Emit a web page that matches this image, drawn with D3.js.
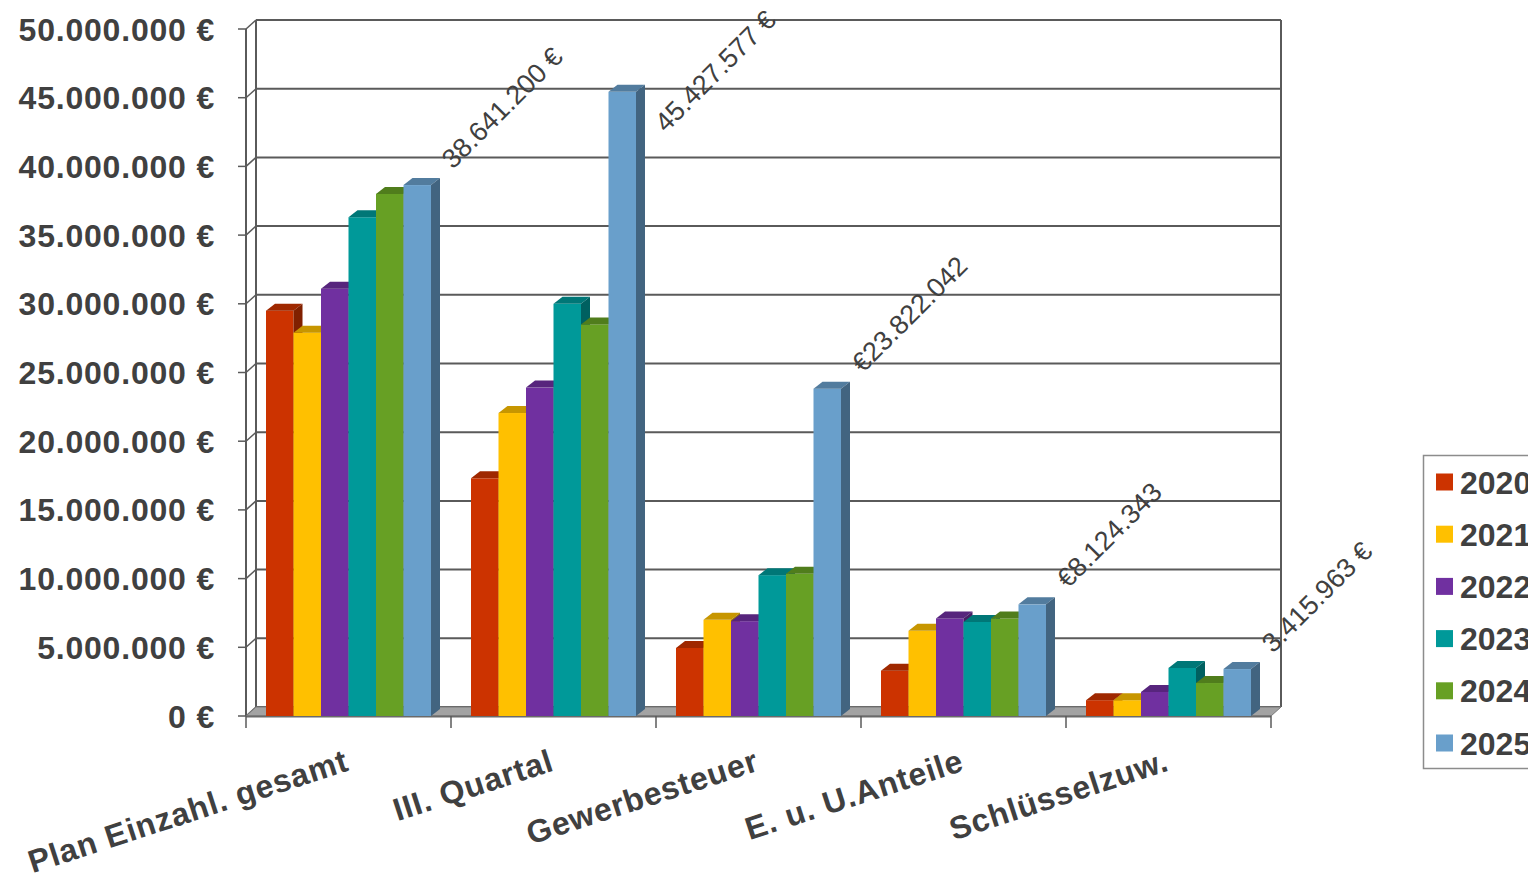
<!DOCTYPE html>
<html><head><meta charset="utf-8">
<script src="https://cdn.jsdelivr.net/npm/d3@7"></script>
<style>body{margin:0;background:#fff;overflow:hidden}text{font-family:"Liberation Sans",Arial,sans-serif}</style>
</head><body>
<svg id="chart" width="1528" height="879"></svg>
<script>
const categories = ["Plan Einzahl. gesamt", "III. Quartal", "Gewerbesteuer", "E. u. U.Anteile", "Schlüsselzuw."];
const years = ["2020", "2021", "2022", "2023", "2024", "2025"];
const v2020 = [29500000, 17300000, 4950000, 3300000, 1150000];
const v2021 = [27900000, 22050000, 7000000, 6200000, 1150000];
const v2022 = [31100000, 23900000, 6900000, 7100000, 1750000];
const v2023 = [36300000, 30000000, 10250000, 6850000, 3500000];
const v2024 = [38000000, 28500000, 10350000, 7100000, 2400000];
const v2025 = [38641200, 45427577, 23822042, 8124343, 3415963];
const labels2025 = ["38.641.200 €", "45.427.577 €", "€23.822.042", "€8.124.343", "3.415.963 €"];
const yTicks = [0, 5000000, 10000000, 15000000, 20000000, 25000000, 30000000, 35000000, 40000000, 45000000, 50000000];
const yTickLabels = ["0 €", "5.000.000 €", "10.000.000 €", "15.000.000 €", "20.000.000 €", "25.000.000 €", "30.000.000 €", "35.000.000 €", "40.000.000 €", "45.000.000 €", "50.000.000 €"];
const seriesColors = ["#cc3300", "#ffc000", "#7030a0", "#009999", "#67a024", "#699fcb"];

const series = [v2020, v2021, v2022, v2023, v2024, v2025];

const svg = d3.select("#chart");
const TXT = "#404040", GRID = "#5a5a5a";
const WX = 10, WY = -9;      // wall depth
const BX = 9, BY = -7;       // bar depth

const y = d3.scaleLinear().domain([0, 50000000]).range([716, 29]);
const x = d3.scaleBand().domain(categories).range([246, 1271]);
const xi = d3.scaleBand().domain(years).range([20, x.bandwidth() - 20]);
const y0 = y(0);
const xL = x.range()[0], xR = x.range()[1];

const walls = svg.append("g");
yTicks.forEach(t => {
  const yf = y(t), yb = y(t) + WY;
  walls.append("line").attr("x1", xL + WX).attr("x2", xR + WX).attr("y1", yb).attr("y2", yb)
    .attr("stroke", GRID).attr("stroke-width", 2);
  walls.append("line").attr("x1", xL).attr("y1", yf).attr("x2", xL + WX).attr("y2", yb)
    .attr("stroke", GRID).attr("stroke-width", 1.5);
  walls.append("line").attr("x1", xL - 8).attr("x2", xL).attr("y1", yf).attr("y2", yf)
    .attr("stroke", GRID).attr("stroke-width", 1.5);
});
const yTop = y(50000000);
walls.append("line").attr("x1", xL).attr("x2", xL).attr("y1", yTop).attr("y2", y0).attr("stroke", GRID).attr("stroke-width", 2);
walls.append("line").attr("x1", xL + WX).attr("x2", xL + WX).attr("y1", yTop + WY).attr("y2", y0 + WY).attr("stroke", GRID).attr("stroke-width", 2);
walls.append("line").attr("x1", xR + WX).attr("x2", xR + WX).attr("y1", yTop + WY).attr("y2", y0 + WY).attr("stroke", GRID).attr("stroke-width", 2);

walls.append("polygon")
  .attr("points", [[xL, y0], [xL + WX, y0 + WY], [xR + WX, y0 + WY], [xR, y0]].map(p => p.join(",")).join(" "))
  .attr("fill", "#a3a3a3").attr("stroke", "#7a7a7a").attr("stroke-width", 1);
walls.append("line").attr("x1", xL).attr("x2", xR).attr("y1", y0 + 0.5).attr("y2", y0 + 0.5).attr("stroke", "#6a6a6a").attr("stroke-width", 2);

d3.range(categories.length + 1).forEach(i => {
  const xx = xL + i * x.step();
  walls.append("line").attr("x1", xx).attr("x2", xx).attr("y1", y0).attr("y2", y0 + 12)
    .attr("stroke", GRID).attr("stroke-width", 1.5);
});

svg.append("g").selectAll("text").data(yTicks).join("text")
  .attr("x", 215).attr("y", d => y(d)).attr("dy", "0.36em")
  .attr("text-anchor", "end").attr("font-size", 32).attr("font-weight", "bold")
  .attr("letter-spacing", "0.8px").attr("fill", TXT)
  .text((d, i) => yTickLabels[i]);

const bars = svg.append("g");
categories.forEach((c, ci) => {
  years.forEach((yr, si) => {
    const v = series[si][ci];
    const bx = x(c) + xi(yr), w = xi.bandwidth(), bt = y(v);
    const col = d3.color(seriesColors[si]);
    const g = bars.append("g");
    g.append("rect").attr("x", bx).attr("y", bt).attr("width", w).attr("height", y0 - bt).attr("fill", col.formatHex());
    g.append("polygon").attr("points", [[bx, bt], [bx + BX, bt + BY], [bx + w + BX, bt + BY], [bx + w, bt]].map(p => p.join(",")).join(" "))
      .attr("fill", col.darker(0.7).formatHex());
    g.append("polygon").attr("points", [[bx + w, bt], [bx + w + BX, bt + BY], [bx + w + BX, y0 + BY], [bx + w, y0]].map(p => p.join(",")).join(" "))
      .attr("fill", col.darker(1.3).formatHex());
  });
});

const lab = svg.append("g");
categories.forEach((c, ci) => {
  let bx = x(c) + xi("2025") + xi.bandwidth() + BX + 13;
  const bt = y(v2025[ci]);
  const t = lab.append("text").attr("font-size", 27).attr("fill", TXT).text(labels2025[ci]);
  const len = t.node().getComputedTextLength();
  const minY = 22 + len * Math.SQRT1_2;
  let sy = bt - 15;
  if (sy < minY) { sy = minY; bx += 8; }
  t.attr("transform", `translate(${bx},${sy}) rotate(-45)`);
});

svg.append("g").selectAll("text").data(categories).join("text")
  .attr("transform", d => `translate(${x(d) + x.bandwidth() / 2 + 2},770) rotate(-18)`)
  .attr("text-anchor", "end").attr("font-size", 32).attr("font-weight", "bold")
  .attr("letter-spacing", "0.8px").attr("fill", TXT).text(d => d);

const leg = svg.append("g");
leg.append("rect").attr("x", 1423.5).attr("y", 455.5).attr("width", 140).attr("height", 313)
  .attr("fill", "#fff").attr("stroke", "#8c8c8c").attr("stroke-width", 1.5);
const ly = d3.scalePoint().domain(years).range([482, 743]);
years.forEach((yr, i) => {
  leg.append("rect").attr("x", 1436).attr("y", ly(yr) - 8.5).attr("width", 17).attr("height", 17).attr("fill", seriesColors[i]);
  leg.append("text").attr("x", 1460).attr("y", ly(yr)).attr("dy", "0.36em")
    .attr("font-size", 32).attr("font-weight", "bold").attr("fill", TXT).text(yr);
});
</script>
</body></html>
